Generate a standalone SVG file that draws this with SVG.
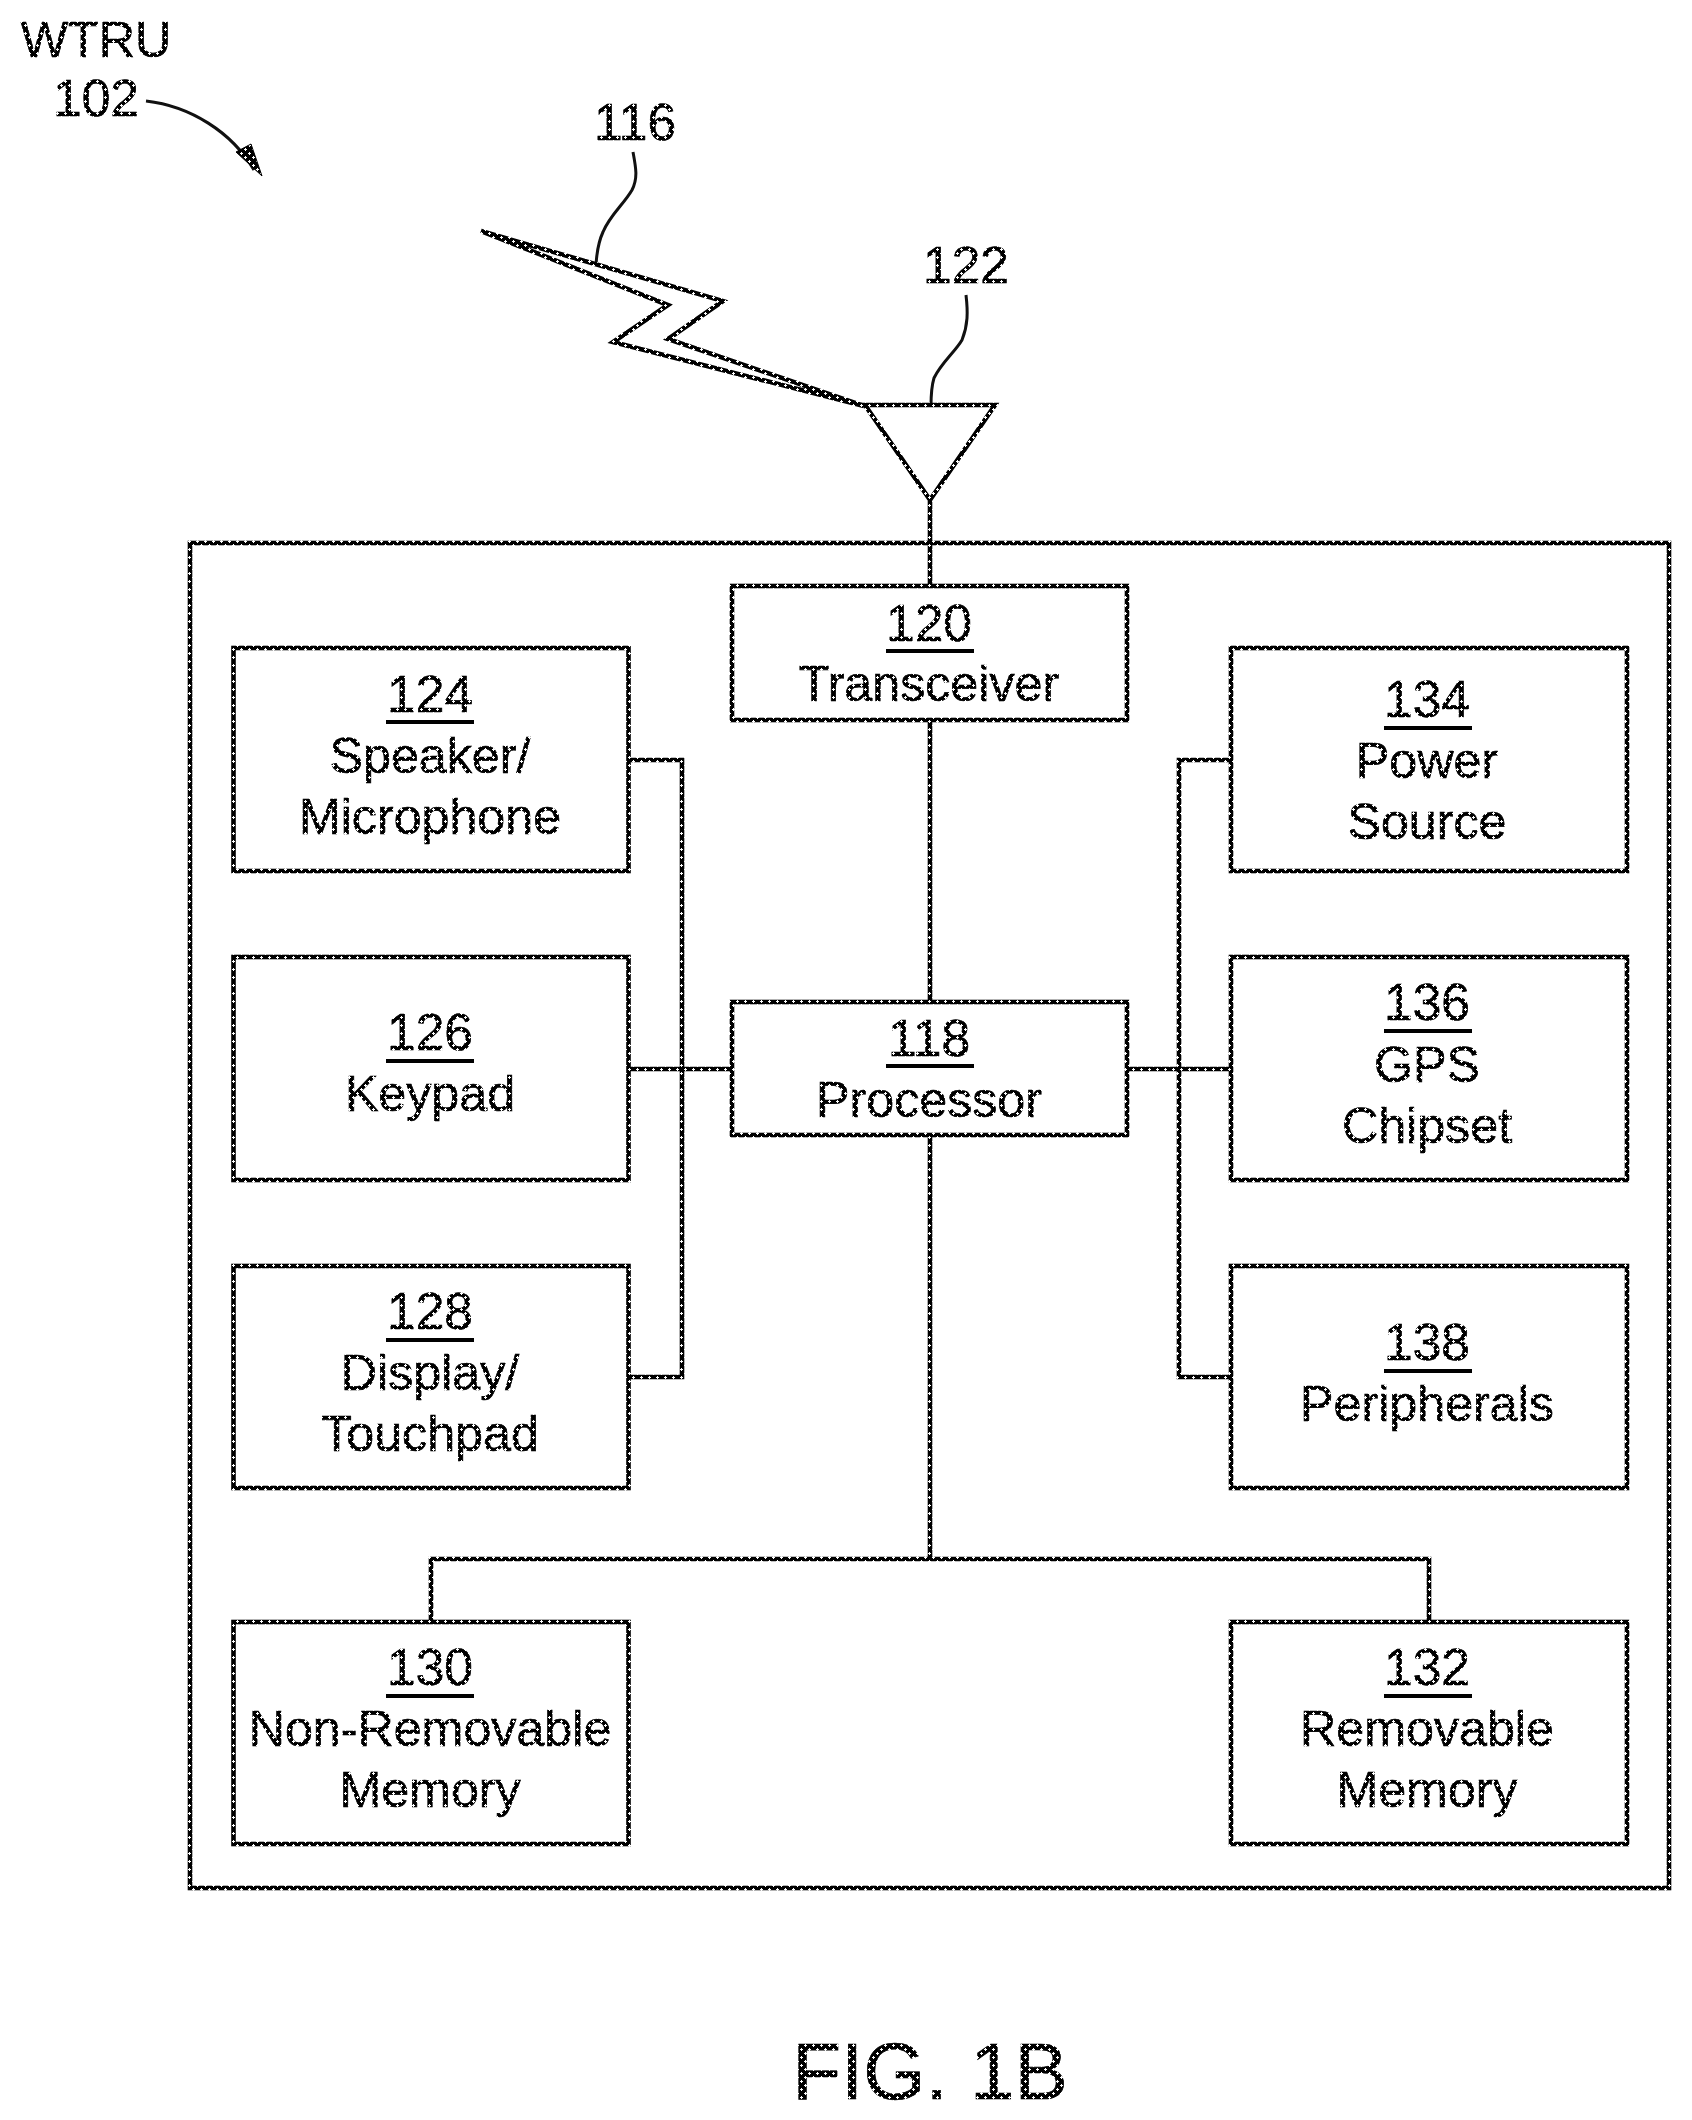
<svg xmlns="http://www.w3.org/2000/svg" width="1692" height="2120" viewBox="0 0 1692 2120">
<defs>
<pattern id="ink" width="8" height="8" patternUnits="userSpaceOnUse">
<rect width="8" height="8" fill="#000"/>
<path d="M1 0h1v1h1v1h-1v1h-1v-1h-1v-1h1zM5 4h1v1h1v1h-1v1h-1v-1h-1v-1h1z" fill="#fff"/>
</pattern>
</defs>
<style>
text{font-family:"Liberation Sans",Arial,sans-serif;font-size:50.2px;fill:url(#ink);stroke:url(#ink);stroke-width:.7px;text-anchor:middle}
.num{font-size:51.5px}
.box{fill:#fff;stroke:url(#ink);stroke-width:4.6}
.ln{fill:none;stroke:url(#ink);stroke-width:4.6}
.thin{fill:none;stroke:#111;stroke-width:3}
.ul{fill:#000}
</style>
<rect width="1692" height="2120" fill="#fff"/>
<g id="outer"><rect class="box" x="190" y="543" width="1479" height="1345"/></g>
<g id="connectors">
<path class="ln" d="M930 501V586"/>
<path class="ln" d="M930 720V1002"/>
<path class="ln" d="M629 760H682V1377H629"/>
<path class="ln" d="M629 1069H732"/>
<path class="ln" d="M1230 760H1179V1377H1230"/>
<path class="ln" d="M1128 1069H1230"/>
<path class="ln" d="M930 1136V1559"/>
<path class="ln" d="M431 1622V1559H1429V1622"/>
<path class="thin" d="M146 101C190 106 232 132 254 170"/>
<path d="M236 152L251 144L262 176Z" fill="url(#ink)" stroke="#000" stroke-width="1"/>
<path class="thin" d="M633 152C636 168 638 178 632 190C624 204 610 215 603 232C597 245 597 255 596 264"/>
<path class="thin" d="M966 295C968 312 968 325 962 340C955 352 942 362 934 378C931 388 931 396 931 406"/>
</g>
<g id="signal-116"><path class="ln" stroke-linejoin="miter" d="M481 231L723 301L668 339L864 406L613 342L668 305Z"/></g>
<g id="antenna-122"><path class="ln" d="M865 405H995L930 500Z"/></g>
<g id="label-wtru"><text x="96" y="57">WTRU</text><text class="num" x="96" y="116">102</text></g>
<g id="label-116"><text class="num" x="635" y="140">116</text></g>
<g id="label-122"><text class="num" x="966" y="283">122</text></g>
<g id="node-120"><rect class="box" x="732" y="586" width="395" height="134"/><text class="num" x="929" y="641">120</text><rect class="ul" x="886" y="649" width="88" height="4"/><text x="929" y="701">Transceiver</text></g>
<g id="node-118"><rect class="box" x="732" y="1002" width="395" height="133"/><text class="num" x="929" y="1056">118</text><rect class="ul" x="886" y="1064" width="88" height="4"/><text x="929" y="1117">Processor</text></g>
<g id="node-124"><rect class="box" x="233.500" y="648" width="395" height="223"/><text class="num" x="430" y="712">124</text><rect class="ul" x="386" y="720" width="88" height="4"/><text x="430" y="773">Speaker/</text><text x="430" y="834">Microphone</text></g>
<g id="node-126"><rect class="box" x="233.500" y="957" width="395" height="223"/><text class="num" x="430" y="1050">126</text><rect class="ul" x="386" y="1059" width="88" height="4"/><text x="430" y="1111">Keypad</text></g>
<g id="node-128"><rect class="box" x="233.500" y="1266" width="395" height="222"/><text class="num" x="430" y="1329">128</text><rect class="ul" x="386" y="1338" width="88" height="4"/><text x="430" y="1390">Display/</text><text x="430" y="1451">Touchpad</text></g>
<g id="node-130"><rect class="box" x="233.500" y="1622" width="395" height="222"/><text class="num" x="430" y="1685">130</text><rect class="ul" x="386" y="1694" width="88" height="4"/><text x="430" y="1746">Non-Removable</text><text x="430" y="1807">Memory</text></g>
<g id="node-134"><rect class="box" x="1231" y="648" width="396" height="223"/><text class="num" x="1427" y="717">134</text><rect class="ul" x="1384" y="726" width="88" height="4"/><text x="1427" y="778">Power</text><text x="1427" y="839">Source</text></g>
<g id="node-136"><rect class="box" x="1231" y="957" width="396" height="223"/><text class="num" x="1427" y="1020">136</text><rect class="ul" x="1384" y="1029" width="88" height="4"/><text x="1427" y="1082">GPS</text><text x="1427" y="1143">Chipset</text></g>
<g id="node-138"><rect class="box" x="1231" y="1266" width="396" height="222"/><text class="num" x="1427" y="1360">138</text><rect class="ul" x="1384" y="1369" width="88" height="4"/><text x="1427" y="1421">Peripherals</text></g>
<g id="node-132"><rect class="box" x="1231" y="1622" width="396" height="222"/><text class="num" x="1427" y="1685">132</text><rect class="ul" x="1384" y="1694" width="88" height="4"/><text x="1427" y="1746">Removable</text><text x="1427" y="1807">Memory</text></g>
<g id="caption"><text x="930" y="2099" style="font-size:80px">FIG. 1B</text></g>
</svg>
